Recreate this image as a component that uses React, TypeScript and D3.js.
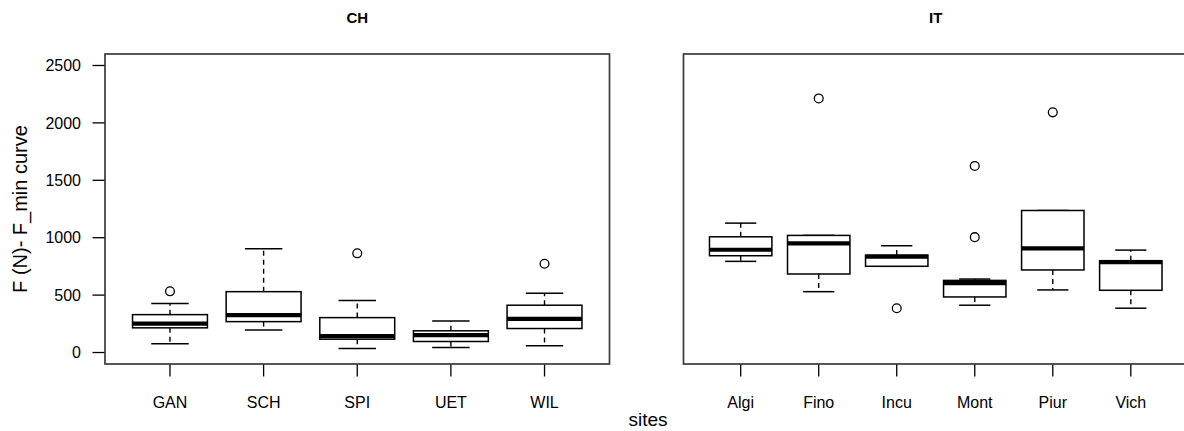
import React from "react";
import * as d3 from "d3";

// ---- data ----
const chSites = ["GAN", "SCH", "SPI", "UET", "WIL"];
const chLow = [76, 197, 35, 44, 58];
const chQ1 = [215, 269, 116, 96, 209];
const chMed = [252, 325, 142, 151, 293];
const chQ3 = [330, 530, 304, 189, 412];
const chHigh = [426, 904, 452, 275, 516];
const chOut: number[][] = [[533], [], [864], [], [773]];

const itSites = ["Algi", "Fino", "Incu", "Mont", "Piur", "Vich"];
const itLow = [794, 530, 751, 412, 545, 386];
const itQ1 = [843, 684, 751, 484, 719, 542];
const itMed = [895, 951, 834, 605, 907, 786];
const itQ3 = [1008, 1020, 849, 628, 1237, 800];
const itHigh = [1127, 1020, 930, 640, 1237, 892];
const itOut: number[][] = [[], [2213], [386], [1005, 1625], [2092], []];

const yTicks = [0, 500, 1000, 1500, 2000, 2500];
const panelTitles = ["CH", "IT"];
const yLabel = "F (N)- F_min curve";
const xLabel = "sites";

const W = 1184;
const H = 431;
const TOP = 54;
const BOTTOM = 364;
const FONT = "'Liberation Sans', Arial, Helvetica, sans-serif";

const y = d3.scaleLinear().domain([-100, 2600]).range([BOTTOM, TOP]);

type PanelProps = {
  title: string;
  left: number;
  right: number;
  domain: [number, number];
  sites: string[];
  low: number[];
  q1: number[];
  med: number[];
  q3: number[];
  high: number[];
  out: number[][];
  showY: boolean;
};

function Panel(p: PanelProps) {
  const x = d3.scaleLinear().domain(p.domain).range([p.left, p.right]);
  const unit = x(1) - x(0);
  const bw = unit * 0.8;
  const cw = bw / 2;
  return (
    <g>
      <text
        x={(p.left + p.right) / 2}
        y={23}
        textAnchor="middle"
        fontFamily={FONT}
        fontWeight="bold"
        fontSize={15}
        fill="#000"
      >
        {p.title}
      </text>
      {p.sites.map((s, i) => {
        const cx = x(i + 1);
        return (
          <g key={s}>
            {p.high[i] > p.q3[i] && (
              <line x1={cx} x2={cx} y1={y(p.q3[i])} y2={y(p.high[i])} stroke="#000" strokeWidth={1.4} strokeDasharray="5,4" />
            )}
            {p.low[i] < p.q1[i] && (
              <line x1={cx} x2={cx} y1={y(p.q1[i])} y2={y(p.low[i])} stroke="#000" strokeWidth={1.4} strokeDasharray="5,4" />
            )}
            <line x1={cx - cw / 2} x2={cx + cw / 2} y1={y(p.high[i])} y2={y(p.high[i])} stroke="#000" strokeWidth={1.5} />
            <line x1={cx - cw / 2} x2={cx + cw / 2} y1={y(p.low[i])} y2={y(p.low[i])} stroke="#000" strokeWidth={1.5} />
            <rect
              x={cx - bw / 2}
              y={y(p.q3[i])}
              width={bw}
              height={y(p.q1[i]) - y(p.q3[i])}
              fill="#fff"
              stroke="#000"
              strokeWidth={1.5}
            />
            <line x1={cx - bw / 2} x2={cx + bw / 2} y1={y(p.med[i])} y2={y(p.med[i])} stroke="#000" strokeWidth={4.2} />
            {p.out[i].map((v, k) => (
              <circle key={k} cx={cx} cy={y(v)} r={4.4} fill="none" stroke="#000" strokeWidth={1.3} />
            ))}
            <line x1={cx} x2={cx} y1={BOTTOM} y2={BOTTOM + 12.5} stroke="#000" strokeWidth={1.3} />
            <text x={cx} y={408} textAnchor="middle" fontFamily={FONT} fontSize={16} fill="#000">
              {s}
            </text>
          </g>
        );
      })}
      {p.showY &&
        yTicks.map((t) => (
          <g key={t}>
            <line x1={p.left - 12.5} x2={p.left} y1={y(t)} y2={y(t)} stroke="#000" strokeWidth={1.3} />
            <text
              x={81}
              y={y(t)}
              dy="0.36em"
              textAnchor="end"
              fontFamily={FONT}
              fontSize={16}
              fill="#000"
            >
              {t}
            </text>
          </g>
        ))}
      <rect
        x={p.left}
        y={TOP}
        width={p.right - p.left}
        height={BOTTOM - TOP}
        fill="none"
        stroke="#3a3a3a"
        strokeWidth={1.7}
      />
    </g>
  );
}

export default function App() {
  return (
    <svg
      width={W}
      height={H}
      viewBox={`0 0 ${W} ${H}`}
      style={{ position: "absolute", left: 0, top: 0, background: "#fff" }}
    >
      <rect x={0} y={0} width={W} height={H} fill="#fff" />
      <Panel
        title={panelTitles[0]}
        left={105}
        right={609.5}
        domain={[0.306, 5.694]}
        sites={chSites}
        low={chLow}
        q1={chQ1}
        med={chMed}
        q3={chQ3}
        high={chHigh}
        out={chOut}
        showY={true}
      />
      <Panel
        title={panelTitles[1]}
        left={683.5}
        right={1188}
        domain={[0.267, 6.733]}
        sites={itSites}
        low={itLow}
        q1={itQ1}
        med={itMed}
        q3={itQ3}
        high={itHigh}
        out={itOut}
        showY={false}
      />
      <text
        transform={`translate(20, ${(TOP + BOTTOM) / 2}) rotate(-90)`}
        dy="0.36em"
        textAnchor="middle"
        fontFamily={FONT}
        fontSize={20}
        fill="#000"
      >
        {yLabel}
      </text>
      <text x={648} y={426} textAnchor="middle" fontFamily={FONT} fontSize={19} fill="#000">
        {xLabel}
      </text>
    </svg>
  );
}
